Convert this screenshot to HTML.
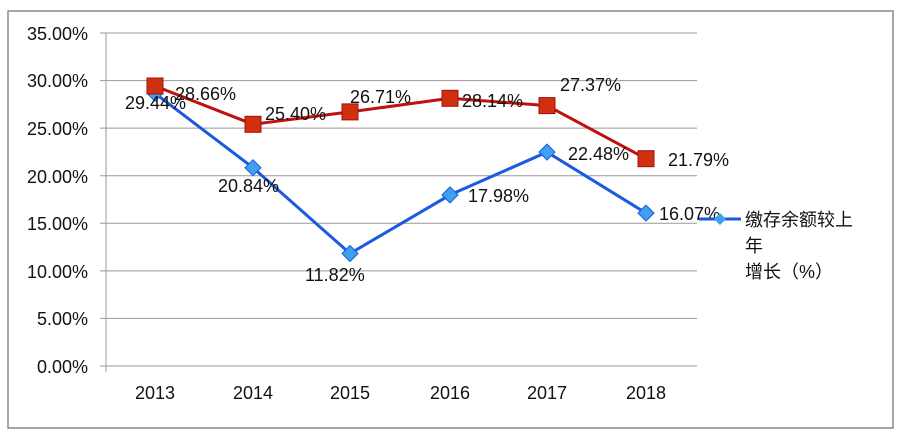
<!DOCTYPE html><html><head><meta charset="utf-8"><style>body{margin:0;background:#fff}svg{display:block}text{font-family:"Liberation Sans","Noto Sans CJK SC",sans-serif;font-size:18px;fill:#111}</style></head><body>
<svg width="900" height="439" xmlns="http://www.w3.org/2000/svg">
<rect x="8" y="11" width="885" height="417" fill="#fff" stroke="#888" stroke-width="1.5"/>
<g stroke="#999" stroke-width="1">
<line x1="100" y1="33" x2="697" y2="33"/><line x1="100" y1="80.6" x2="697" y2="80.6"/><line x1="100" y1="128.1" x2="697" y2="128.1"/><line x1="100" y1="175.7" x2="697" y2="175.7"/><line x1="100" y1="223.3" x2="697" y2="223.3"/><line x1="100" y1="270.9" x2="697" y2="270.9"/><line x1="100" y1="318.4" x2="697" y2="318.4"/><line x1="100" y1="366" x2="697" y2="366"/>
<line x1="106" y1="33" x2="106" y2="372"/>
</g>
<g text-anchor="end"><text x="88" y="40">35.00%</text><text x="88" y="87">30.00%</text><text x="88" y="135">25.00%</text><text x="88" y="183">20.00%</text><text x="88" y="230">15.00%</text><text x="88" y="278">10.00%</text><text x="88" y="325">5.00%</text><text x="88" y="373">0.00%</text></g>
<g text-anchor="middle" style="font-size:17px"><text x="155" y="399">2013</text><text x="253" y="399">2014</text><text x="350" y="399">2015</text><text x="450" y="399">2016</text><text x="547" y="399">2017</text><text x="646" y="399">2018</text></g>
<polyline points="155,93.3 253,167.7 350,253.5 450,194.9 547,152.1 646,213.1" fill="none" stroke="#1a5ae0" stroke-width="3"/>
<polyline points="155,86 253,124.3 350,111.9 450,98.3 547,105.6 646,158.7" fill="none" stroke="#c01010" stroke-width="3"/>
<g fill="#3fa0ee" stroke="#1a5ae0" stroke-width="1">
<path d="M155 85.3l8 8-8 8-8-8z"/><path d="M253 159.7l8 8-8 8-8-8z"/><path d="M350 245.5l8 8-8 8-8-8z"/><path d="M450 186.9l8 8-8 8-8-8z"/><path d="M547 144.1l8 8-8 8-8-8z"/><path d="M646 205.1l8 8-8 8-8-8z"/></g>
<g fill="#d03010" stroke="#a01010" stroke-width="1">
<rect x="147" y="78" width="16" height="16"/><rect x="245" y="116.3" width="16" height="16"/><rect x="342" y="103.9" width="16" height="16"/><rect x="442" y="90.3" width="16" height="16"/><rect x="539" y="97.6" width="16" height="16"/><rect x="638" y="150.7" width="16" height="16"/></g>
<text x="125" y="109">29.44%</text><text x="175" y="100">28.66%</text><text x="265" y="120">25.40%</text><text x="350" y="103">26.71%</text><text x="462" y="107">28.14%</text><text x="560" y="91">27.37%</text><text x="668" y="166">21.79%</text>
<text x="218" y="192">20.84%</text><text x="305" y="281">11.82%</text><text x="468" y="202">17.98%</text><text x="568" y="160">22.48%</text><text x="659" y="220">16.07%</text>
<line x1="699" y1="219" x2="741" y2="219" stroke="#1a5ae0" stroke-width="3"/><path d="M720 213l6 6-6 6-6-6z" fill="#3fa0ee"/>
<text x="745" y="226" font-size="21">缴存余额较上</text><text x="745" y="252" font-size="21">年</text><text x="745" y="278" font-size="21">增长（%）</text>
</svg></body></html>
